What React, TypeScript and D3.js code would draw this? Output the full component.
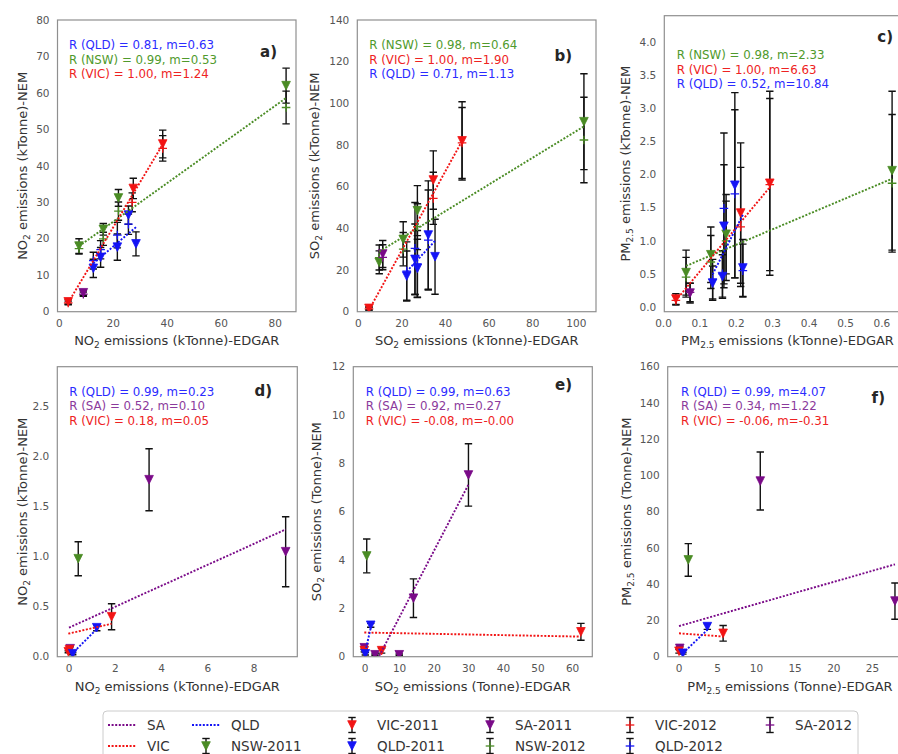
import React from 'react';
import * as d3 from 'd3';

type P = [number, number, number]; // x, y, error
type State = 'NSW' | 'VIC' | 'QLD' | 'SA';

// ---------------- Panel a: NO2 (kTonne)
const aNSW11: P[] = [[7.3, 18.0, 2.0], [16.3, 22.6, 1.6], [21.9, 31.2, 2.3], [84.0, 62.0, 4.8]];
const aNSW12: P[] = [[7.3, 17.3, 1.5], [16.3, 20.0, 1.8], [21.9, 27.6, 2.5], [84.0, 56.0, 4.5]];
const aVIC11: P[] = [[3.3, 2.7, 0.6], [27.4, 33.8, 2.8], [38.3, 46.0, 3.8]];
const aVIC12: P[] = [[3.3, 2.4, 0.5], [27.0, 30.0, 2.6], [38.3, 44.8, 3.5]];
const aQLD11: P[] = [[12.6, 11.9, 2.5], [15.3, 14.9, 2.7], [21.5, 17.7, 3.6], [25.6, 26.5, 2.5], [28.4, 18.6, 3.3]];
const aQLD12: P[] = [[12.6, 14.0, 2.3], [15.3, 17.0, 2.5], [21.5, 21.0, 3.5], [25.6, 24.0, 2.8]];
const aSA11: P[] = [[8.9, 5.2, 0.7]];
const aSA12: P[] = [[8.9, 4.8, 0.6]];
// fit lines: state, x0, x1, slope, intercept
const aFits: [State, number, number, number, number][] = [
  ['QLD', 12.6, 28.4, 0.63, 5.3], ['NSW', 7.3, 84.0, 0.53, 14.1], ['VIC', 3.3, 38.3, 1.24, -1.6]];
const aNotes: [State, string][] = [['QLD', 'R (QLD) = 0.81, m=0.63'], ['NSW', 'R (NSW) = 0.99, m=0.53'], ['VIC', 'R (VIC) = 1.00, m=1.24']];

// ---------------- Panel b: SO2 (kTonne)
const bNSW11: P[] = [[9.6, 23.7, 5.5], [20.6, 34.7, 8.5], [27.1, 48.5, 12], [103.5, 91.2, 23]];
const bNSW12: P[] = [[9.6, 26.0, 6], [20.6, 30.0, 8], [27.1, 40.8, 11], [103.5, 82.4, 20.5]];
const bVIC11: P[] = [[4.9, 1.6, 0.8], [34.4, 63.2, 14], [47.6, 82.0, 18.8]];
const bVIC12: P[] = [[4.9, 1.4, 0.6], [34.4, 54.4, 12.5], [47.6, 81.0, 17]];
const bQLD11: P[] = [[22.2, 17.1, 12], [26.0, 25.1, 17], [27.1, 20.8, 14], [32.1, 36.8, 26], [35.2, 26.4, 18]];
const bQLD12: P[] = [[22.2, 19.5, 14], [26.0, 30.4, 22], [27.1, 23.0, 16], [32.1, 34.4, 24]];
const bSA11: P[] = [[11.2, 27.7, 6.5]];
const bSA12: P[] = [[11.2, 26.1, 6]];
const bFits: [State, number, number, number, number][] = [
  ['NSW', 9.6, 103.5, 0.64, 22.7], ['VIC', 4.9, 47.6, 1.9, -8.5], ['QLD', 22.2, 35.2, 1.13, -5.8]];
const bNotes: [State, string][] = [['NSW', 'R (NSW) = 0.98, m=0.64'], ['VIC', 'R (VIC) = 1.00, m=1.90'], ['QLD', 'R (QLD) = 0.71, m=1.13']];

// ---------------- Panel c: PM2.5 (kTonne)
const cNSW11: P[] = [[0.062, 0.52, 0.34], [0.13, 0.79, 0.42], [0.172, 1.10, 0.6], [0.628, 2.06, 1.2]];
const cNSW12: P[] = [[0.062, 0.45, 0.3], [0.13, 0.68, 0.4], [0.172, 1.0, 0.6], [0.628, 1.87, 1.04]];
const cVIC11: P[] = [[0.034, 0.12, 0.08], [0.212, 1.42, 1.06], [0.292, 1.87, 1.39]];
const cVIC12: P[] = [[0.034, 0.10, 0.07], [0.212, 1.21, 0.9], [0.292, 1.85, 1.3]];
const cQLD11: P[] = [[0.135, 0.36, 0.26], [0.162, 0.46, 0.33], [0.166, 1.22, 0.93], [0.196, 1.84, 1.4], [0.218, 0.59, 0.43]];
const cQLD12: P[] = [[0.135, 0.42, 0.3], [0.162, 0.5, 0.35], [0.166, 1.49, 1.14], [0.196, 1.71, 1.27], [0.218, 0.55, 0.4]];
const cSA11: P[] = [[0.073, 0.21, 0.15]];
const cSA12: P[] = [[0.073, 0.22, 0.14]];
const cFits: [State, number, number, number, number][] = [
  ['NSW', 0.062, 0.628, 2.33, 0.476], ['VIC', 0.034, 0.292, 6.63, -0.125], ['QLD', 0.135, 0.218, 10.84, -0.97]];
const cNotes: [State, string][] = [['NSW', 'R (NSW) = 0.98, m=2.33'], ['VIC', 'R (VIC) = 1.00, m=6.63'], ['QLD', 'R (QLD) = 0.52, m=10.84']];

// ---------------- Panel d: NO2 (kTonne)
const dNSW11: P[] = [[0.40, 0.98, 0.17]];
const dSA11: P[] = [[0.05, 0.08, 0.02], [3.46, 1.77, 0.31], [9.36, 1.05, 0.35]];
const dVIC11: P[] = [[-0.03, 0.05, 0.01], [0.02, 0.07, 0.01], [1.84, 0.40, 0.13]];
const dQLD11: P[] = [[0.16, 0.03, 0.01], [1.2, 0.29, 0.03]];
const dFits: [State, number, number, number, number][] = [
  ['SA', 0.0, 9.36, 0.105, 0.29], ['VIC', -0.03, 1.84, 0.053, 0.232], ['QLD', 0.12, 1.2, 0.23, 0.0]];
const dNotes: [State, string][] = [['QLD', 'R (QLD) = 0.99, m=0.23'], ['SA', 'R (SA) = 0.52, m=0.10'], ['VIC', 'R (VIC) = 0.18, m=0.05']];

// ---------------- Panel e: SO2 (Tonne)
const eNSW11: P[] = [[0.5, 4.17, 0.7]];
const eSA11: P[] = [[-0.2, 0.37, 0.05], [2.9, 0.08, 0.03], [9.9, 0.08, 0.03], [14.0, 2.42, 0.8], [29.9, 7.52, 1.29]];
const eVIC11: P[] = [[-0.2, 0.25, 0.05], [4.8, 0.25, 0.1], [62.4, 1.03, 0.35]];
const eQLD11: P[] = [[0.1, 0.12, 0.05], [1.65, 1.3, 0.08]];
const eFits: [State, number, number, number, number][] = [
  ['SA', -0.2, 29.9, 0.275, -1.1], ['VIC', -0.2, 62.4, -0.0027, 1.0], ['QLD', 0.1, 1.65, 0.63, 0.15]];
const eNotes: [State, string][] = [['QLD', 'R (QLD) = 0.99, m=0.63'], ['SA', 'R (SA) = 0.92, m=0.27'], ['VIC', 'R (VIC) = -0.08, m=-0.00']];

// ---------------- Panel f: PM2.5 (Tonne)
const fNSW11: P[] = [[1.2, 53.4, 9]];
const fSA11: P[] = [[0.1, 4.6, 1], [10.5, 96.9, 16], [27.9, 30.7, 10]];
const fVIC11: P[] = [[0.0, 3.0, 1], [5.7, 12.9, 4.3]];
const fQLD11: P[] = [[0.5, 1.9, 0.5], [3.66, 16.6, 1.5]];
const fFits: [State, number, number, number, number][] = [
  ['SA', 0.0, 27.9, 1.22, 16.9], ['VIC', 0.0, 5.7, -0.31, 12.9], ['QLD', 0.5, 3.66, 4.07, -0.1]];
const fNotes: [State, string][] = [['QLD', 'R (QLD) = 0.99, m=4.07'], ['SA', 'R (SA) = 0.34, m=1.22'], ['VIC', 'R (VIC) = -0.06, m=-0.31']];

// tick values
const aXTicks = [0, 20, 40, 60, 80];
const aYTicks = [0, 10, 20, 30, 40, 50, 60, 70, 80];
const bXTicks = [0, 20, 40, 60, 80, 100];
const bYTicks = [0, 20, 40, 60, 80, 100, 120, 140];
const cXTicks = [0, 0.1, 0.2, 0.3, 0.4, 0.5, 0.6];
const cYTicks = [0, 0.5, 1, 1.5, 2, 2.5, 3, 3.5, 4];
const dXTicks = [0, 2, 4, 6, 8];
const dYTicks = [0, 0.5, 1, 1.5, 2, 2.5];
const eXTicks = [0, 10, 20, 30, 40, 50, 60];
const eYTicks = [0, 2, 4, 6, 8, 10, 12];
const fXTicks = [0, 5, 10, 15, 20, 25];
const fYTicks = [0, 20, 40, 60, 80, 100, 120, 140, 160];

// ---------------- styles
const COL: Record<State, string> = { NSW: '#4a8c24', VIC: '#f21414', QLD: '#1414f5', SA: '#7a0a88' };
const TXT: Record<State, string> = { NSW: '#4f9a2c', VIC: '#ee2222', QLD: '#2b2bff', SA: '#8b3a9c' };
const FONT = 'DejaVu Sans, Verdana, sans-serif';

type Series = { state: State; year: 2011 | 2012; pts: P[] };
type Lab = [string, boolean][];

interface Cfg {
  id: string; letter: string;
  l: number; r: number; t: number; b: number;
  xd: [number, number]; yd: [number, number];
  xt: number[]; yt: number[]; xf: (v: number) => string; yf: (v: number) => string;
  series: Series[]; fits: [State, number, number, number, number][]; notes: [State, string][];
  noteX: number; noteY: number; letX: number; letY: number;
  xlab: Lab; ylab: Lab; xlabX: number; xlabY: number; ylabX: number;
}

const fInt = (v: number) => d3.format('d')(v);
const f1 = (v: number) => d3.format('.1f')(v);

const sub = (a: string, s: string, b: string): Lab => [[a, false], [s, true], [b, false]];

const panels: Cfg[] = [
  {
    id: 'a', letter: 'a)', l: 57.5, r: 296, t: 20, b: 311.7, xd: [-0.67, 87.67], yd: [0, 80],
    xt: aXTicks, yt: aYTicks, xf: fInt, yf: fInt,
    series: [
      { state: 'NSW', year: 2011, pts: aNSW11 }, { state: 'VIC', year: 2011, pts: aVIC11 },
      { state: 'QLD', year: 2011, pts: aQLD11 }, { state: 'SA', year: 2011, pts: aSA11 },
      { state: 'NSW', year: 2012, pts: aNSW12 }, { state: 'VIC', year: 2012, pts: aVIC12 },
      { state: 'QLD', year: 2012, pts: aQLD12 }, { state: 'SA', year: 2012, pts: aSA12 }],
    fits: aFits, notes: aNotes, noteX: 69, noteY: 49, letX: 277, letY: 57,
    xlab: sub('NO', '2', ' emissions (kTonne)-EDGAR'), ylab: sub('NO', '2', ' emissions (kTonne)-NEM'),
    xlabX: 176.7, xlabY: 345, ylabX: 27,
  },
  {
    id: 'b', letter: 'b)', l: 357.3, r: 596, t: 20, b: 311.7, xd: [-0.46, 109.04], yd: [0, 140],
    xt: bXTicks, yt: bYTicks, xf: fInt, yf: fInt,
    series: [
      { state: 'NSW', year: 2011, pts: bNSW11 }, { state: 'VIC', year: 2011, pts: bVIC11 },
      { state: 'QLD', year: 2011, pts: bQLD11 }, { state: 'SA', year: 2011, pts: bSA11 },
      { state: 'NSW', year: 2012, pts: bNSW12 }, { state: 'VIC', year: 2012, pts: bVIC12 },
      { state: 'QLD', year: 2012, pts: bQLD12 }, { state: 'SA', year: 2012, pts: bSA12 }],
    fits: bFits, notes: bNotes, noteX: 369.3, noteY: 49, letX: 572, letY: 61,
    xlab: sub('SO', '2', ' emissions (kTonne)-EDGAR'), ylab: sub('SO', '2', ' emissions (kTonne)-NEM'),
    xlabX: 476.7, xlabY: 345, ylabX: 319,
  },
  {
    id: 'c', letter: 'c)', l: 664.3, r: 910, t: 15.7, b: 311.7, xd: [0.0022, 0.6772], yd: [-0.071, 4.402],
    xt: cXTicks, yt: cYTicks, xf: f1, yf: f1,
    series: [
      { state: 'NSW', year: 2011, pts: cNSW11 }, { state: 'VIC', year: 2011, pts: cVIC11 },
      { state: 'QLD', year: 2011, pts: cQLD11 }, { state: 'SA', year: 2011, pts: cSA11 },
      { state: 'NSW', year: 2012, pts: cNSW12 }, { state: 'VIC', year: 2012, pts: cVIC12 },
      { state: 'QLD', year: 2012, pts: cQLD12 }, { state: 'SA', year: 2012, pts: cSA12 }],
    fits: cFits, notes: cNotes, noteX: 676.7, noteY: 59, letX: 893, letY: 42,
    xlab: sub('PM', '2.5', ' emissions (kTonne)-EDGAR'), ylab: sub('PM', '2.5', ' emissions (kTonne)-NEM'),
    xlabX: 787.5, xlabY: 345, ylabX: 630,
  },
  {
    id: 'd', letter: 'd)', l: 57.3, r: 297.3, t: 366.7, b: 656.7, xd: [-0.505, 9.863], yd: [0, 2.9],
    xt: dXTicks, yt: dYTicks, xf: fInt, yf: f1,
    series: [
      { state: 'NSW', year: 2011, pts: dNSW11 }, { state: 'SA', year: 2011, pts: dSA11 },
      { state: 'VIC', year: 2011, pts: dVIC11 }, { state: 'QLD', year: 2011, pts: dQLD11 }],
    fits: dFits, notes: dNotes, noteX: 69.3, noteY: 395.7, letX: 272, letY: 396,
    xlab: sub('NO', '2', ' emissions (kTonne)-EDGAR'), ylab: sub('NO', '2', ' emissions (kTonne)-NEM'),
    xlabX: 177.3, xlabY: 691, ylabX: 27,
  },
  {
    id: 'e', letter: 'e)', l: 353.3, r: 592.3, t: 366.7, b: 656.7, xd: [-3.38, 65.69], yd: [0, 12],
    xt: eXTicks, yt: eYTicks, xf: fInt, yf: fInt,
    series: [
      { state: 'NSW', year: 2011, pts: eNSW11 }, { state: 'SA', year: 2011, pts: eSA11 },
      { state: 'VIC', year: 2011, pts: eVIC11 }, { state: 'QLD', year: 2011, pts: eQLD11 }],
    fits: eFits, notes: eNotes, noteX: 365.7, noteY: 395.7, letX: 572, letY: 390,
    xlab: sub('SO', '2', ' emissions (Tonne)-EDGAR'), ylab: sub('SO', '2', ' emissions (Tonne)-NEM'),
    xlabX: 472.8, xlabY: 691, ylabX: 320.5,
  },
  {
    id: 'f', letter: 'f)', l: 667.7, r: 912, t: 366.7, b: 656.7, xd: [-1.46, 30.1], yd: [0, 160],
    xt: fXTicks, yt: fYTicks, xf: fInt, yf: fInt,
    series: [
      { state: 'NSW', year: 2011, pts: fNSW11 }, { state: 'SA', year: 2011, pts: fSA11 },
      { state: 'VIC', year: 2011, pts: fVIC11 }, { state: 'QLD', year: 2011, pts: fQLD11 }],
    fits: fFits, notes: fNotes, noteX: 681, noteY: 395.7, letX: 885, letY: 402.5,
    xlab: sub('PM', '2.5', ' emissions (Tonne)-EDGAR'), ylab: sub('PM', '2.5', ' emissions (Tonne)-NEM'),
    xlabX: 790, xlabY: 691, ylabX: 631,
  },
];

function LabelText({ parts, ...rest }: { parts: Lab } & React.SVGProps<SVGTextElement>) {
  const out: React.ReactNode[] = [];
  parts.forEach(([s, isSub], i) => {
    if (isSub) {
      out.push(<tspan key={i} dy={3.2} fontSize={9}>{s}</tspan>);
    } else {
      out.push(<tspan key={i} dy={i > 0 ? -3.2 : 0}>{s}</tspan>);
    }
  });
  return <text {...rest}>{out}</text>;
}

function Tri({ cx, cy, color, h = 4.3 }: { cx: number; cy: number; color: string; h?: number }) {
  return <path d={`M${cx - h},${cy - h} L${cx + h},${cy - h} L${cx},${cy + h} Z`} fill={color} stroke={color} strokeWidth={0.8} />;
}
function Plus({ cx, cy, color, h = 4.3 }: { cx: number; cy: number; color: string; h?: number }) {
  return (
    <g stroke={color} strokeWidth={1.3}>
      <line x1={cx - h} x2={cx + h} y1={cy} y2={cy} />
      <line x1={cx} x2={cx} y1={cy - h} y2={cy + h} />
    </g>
  );
}
function ErrBar({ cx, y0, y1 }: { cx: number; y0: number; y1: number }) {
  return (
    <g stroke="#111" strokeWidth={1.4}>
      <line x1={cx} x2={cx} y1={y0} y2={y1} />
      <line x1={cx - 3.7} x2={cx + 3.7} y1={y0} y2={y0} />
      <line x1={cx - 3.7} x2={cx + 3.7} y1={y1} y2={y1} />
    </g>
  );
}

const DASH = '2,1.6';

function Panel({ c }: { c: Cfg }) {
  const x = d3.scaleLinear().domain(c.xd).range([c.l, c.r]);
  const y = d3.scaleLinear().domain(c.yd).range([c.b, c.t]);
  const clip = `clip-${c.id}`;
  const midY = (c.t + c.b) / 2;
  return (
    <g>
      <defs>
        <clipPath id={clip}><rect x={c.l} y={c.t} width={c.r - c.l} height={c.b - c.t} /></clipPath>
      </defs>
      <rect x={c.l} y={c.t} width={c.r - c.l} height={c.b - c.t} fill="#fff" />
      <g fontFamily={FONT} fontSize={10.5} fill="#555">
        {c.yt.map((v) => (
          <text key={'y' + v} x={c.l - 8} y={y(v)} dy="0.35em" textAnchor="end">{c.yf(v)}</text>
        ))}
        {c.xt.map((v) => (
          <text key={'x' + v} x={x(v)} y={c.b + 15} textAnchor="middle">{c.xf(v)}</text>
        ))}
      </g>
      <g clipPath={`url(#${clip})`}>
        {c.series.map((s, i) => (
          <g key={'e' + i}>
            {s.pts.map((p, j) => (
              <ErrBar key={j} cx={x(p[0])} y0={y(p[1] - p[2])} y1={y(p[1] + p[2])} />
            ))}
          </g>
        ))}
        {c.series.map((s, i) => (
          <g key={'m' + i}>
            {s.pts.map((p, j) =>
              s.year === 2011
                ? <Tri key={j} cx={x(p[0])} cy={y(p[1])} color={COL[s.state]} />
                : <Plus key={j} cx={x(p[0])} cy={y(p[1])} color={COL[s.state]} />
            )}
          </g>
        ))}
        {c.fits.map(([st, x0, x1, m, b0], i) => (
          <line key={'f' + i} x1={x(x0)} x2={x(x1)} y1={y(m * x0 + b0)} y2={y(m * x1 + b0)}
            stroke={COL[st]} strokeWidth={1.9} strokeDasharray={DASH} />
        ))}
      </g>
      <rect x={c.l} y={c.t} width={c.r - c.l} height={c.b - c.t} fill="none" stroke="#8f8f8f" strokeWidth={1.2} />
      <g fontFamily={FONT} fontSize={11.8}>
        {c.notes.map(([st, t], i) => (
          <text key={i} x={c.noteX} y={c.noteY + i * 14.6} fill={TXT[st]}>{t}</text>
        ))}
      </g>
      <text x={c.letX} y={c.letY} textAnchor="end" fontFamily={FONT} fontWeight="bold" fontSize={15} fill="#262626">{c.letter}</text>
      <LabelText parts={c.xlab} x={c.xlabX} y={c.xlabY} textAnchor="middle" fontFamily={FONT} fontSize={13} fill="#333" />
      <LabelText parts={c.ylab} x={0} y={0} textAnchor="middle" fontFamily={FONT} fontSize={13} fill="#333"
        transform={`translate(${c.ylabX},${midY}) rotate(-90)`} />
    </g>
  );
}

// legend entries, column-major (2 rows)
const legendItems: { label: string; kind: 'line' | 'tri' | 'plus'; state: State }[] = [
  { label: 'SA', kind: 'line', state: 'SA' },
  { label: 'VIC', kind: 'line', state: 'VIC' },
  { label: 'QLD', kind: 'line', state: 'QLD' },
  { label: 'NSW-2011', kind: 'tri', state: 'NSW' },
  { label: 'VIC-2011', kind: 'tri', state: 'VIC' },
  { label: 'QLD-2011', kind: 'tri', state: 'QLD' },
  { label: 'SA-2011', kind: 'tri', state: 'SA' },
  { label: 'NSW-2012', kind: 'plus', state: 'NSW' },
  { label: 'VIC-2012', kind: 'plus', state: 'VIC' },
  { label: 'QLD-2012', kind: 'plus', state: 'QLD' },
  { label: 'SA-2012', kind: 'plus', state: 'SA' },
];
const legendColX = [108, 192, 338, 476, 616, 756];

function Legend() {
  const rowY = [725, 746];
  return (
    <g>
      <rect x={103} y={711} width={755} height={52} rx={4} fill="#fff" stroke="#cccccc" strokeWidth={1} />
      {legendItems.map((it, i) => {
        const col = Math.floor(i / 2);
        const row = i % 2;
        const hx = legendColX[col];
        const cy = rowY[row];
        const cx = hx + 14;
        return (
          <g key={i}>
            {it.kind === 'line' ? (
              <line x1={hx} x2={hx + 28} y1={cy} y2={cy} stroke={COL[it.state]} strokeWidth={1.9} strokeDasharray={DASH} />
            ) : (
              <g>
                <ErrBar cx={cx} y0={cy - 7.5} y1={cy + 7.5} />
                {it.kind === 'tri' ? <Tri cx={cx} cy={cy} color={COL[it.state]} /> : <Plus cx={cx} cy={cy} color={COL[it.state]} />}
              </g>
            )}
            <text x={hx + 39} y={cy} dy="0.35em" fontFamily={FONT} fontSize={13.5} fill="#333">{it.label}</text>
          </g>
        );
      })}
    </g>
  );
}

export default function App() {
  return (
    <svg width={898} height={754} viewBox="0 0 898 754"
      style={{ position: 'absolute', left: 0, top: 0, background: '#fff' }}>
      <rect x={0} y={0} width={898} height={754} fill="#fff" />
      {panels.map((c) => <Panel key={c.id} c={c} />)}
      <Legend />
    </svg>
  );
}
